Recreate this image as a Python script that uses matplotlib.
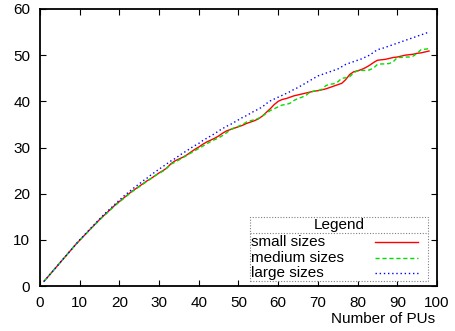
import numpy as np
import matplotlib
matplotlib.use("Agg")
import matplotlib.pyplot as plt
from matplotlib.lines import Line2D
from matplotlib.patches import Rectangle

plt.rcParams['font.family'] = ['Liberation Sans', 'DejaVu Sans']

# Number of processing units
pus = list(range(1, 99))

small_sizes = [
    1.0, 2.0, 3.0, 4.0, 5.0, 6.0, 7.0, 8.0, 9.0, 9.9,
    10.8, 11.7, 12.6, 13.5, 14.4, 15.2, 16.0, 16.8, 17.6, 18.3,
    19.0, 19.7, 20.4, 21.0, 21.6, 22.2, 22.8, 23.3, 23.9, 24.5,
    25.0, 25.6, 26.5, 27.1, 27.5, 27.9, 28.4, 29.0, 29.6, 30.1,
    30.7, 31.2, 31.6, 32.0, 32.5, 33.1, 33.6, 33.9, 34.2, 34.5,
    34.8, 35.2, 35.5, 35.8, 36.2, 36.8, 37.6, 38.4, 39.3, 40.0,
    40.4, 40.6, 40.9, 41.2, 41.4, 41.6, 41.8, 42.0, 42.2, 42.3,
    42.5, 42.7, 43.0, 43.3, 43.6, 43.9, 44.7, 45.8, 46.4, 46.6,
    46.9, 47.3, 47.8, 48.4, 48.9, 49.0, 49.1, 49.3, 49.5, 49.6,
    49.8, 50.0, 50.1, 50.2, 50.4, 50.5, 50.7, 50.9,
]

medium_sizes = [
    1.0, 2.0, 3.0, 4.0, 5.0, 6.0, 7.0, 8.0, 9.0, 9.9,
    10.8, 11.7, 12.6, 13.4, 14.3, 15.1, 15.9, 16.7, 17.5, 18.2,
    18.9, 19.6, 20.3, 20.9, 21.5, 22.1, 22.7, 23.3, 23.9, 24.4,
    24.9, 25.6, 26.4, 26.8, 27.3, 27.8, 28.3, 28.8, 29.3, 29.8,
    30.3, 30.8, 31.3, 31.7, 32.1, 32.6, 33.2, 33.9, 34.3, 34.6,
    35.0, 35.5, 35.8, 36.0, 36.3, 36.8, 37.4, 38.0, 38.4, 38.8,
    39.2, 39.3, 39.6, 40.2, 40.6, 40.9, 41.3, 42.0, 42.2, 42.3,
    42.6, 43.4, 43.7, 43.8, 44.2, 45.0, 45.1, 45.3, 46.2, 46.6,
    46.7, 46.7, 46.8, 47.2, 48.0, 48.1, 48.1, 48.2, 48.6, 49.5,
    49.5, 49.6, 49.6, 49.8, 50.4, 51.2, 51.3, 51.4,
]

large_sizes = [
    1.0, 2.0, 3.0, 4.0, 5.0, 6.0, 7.0, 8.0, 9.0, 10.0,
    10.9, 11.8, 12.7, 13.6, 14.5, 15.4, 16.2, 17.0, 17.8, 18.6,
    19.4, 20.1, 20.8, 21.5, 22.1, 22.8, 23.4, 24.1, 24.7, 25.3,
    25.9, 26.5, 27.1, 27.6, 28.2, 28.8, 29.3, 29.9, 30.4, 30.9,
    31.5, 32.0, 32.5, 33.0, 33.6, 34.1, 34.6, 35.0, 35.5, 36.0,
    36.5, 36.9, 37.4, 37.9, 38.3, 38.8, 39.5, 40.1, 40.5, 40.9,
    41.3, 41.7, 42.1, 42.6, 43.0, 43.5, 44.0, 44.5, 45.0, 45.5,
    45.8, 46.1, 46.4, 46.7, 47.0, 47.5, 48.0, 48.3, 48.6, 48.9,
    49.2, 49.6, 50.0, 50.6, 51.2, 51.4, 51.7, 52.0, 52.3, 52.6,
    52.9, 53.2, 53.5, 53.8, 54.1, 54.4, 54.7, 55.0,
]

series_labels = ["small sizes", "medium sizes", "large sizes"]
series_colors = ["#ff0000", "#00e000", "#0000ff"]
series_styles = ["-", (0, (3, 2)), (0, (1, 2))]

x_ticks = list(range(0, 101, 10))
y_ticks = list(range(0, 61, 10))

FS = 11
W, H = 456, 331
fig = plt.figure(figsize=(W / 100, H / 100), dpi=100)
L, R, B, T = 40, 437, 286, 9
ax = fig.add_axes([L / W, (H - B) / H, (R - L) / W, (B - T) / H])

for ys, lab, col, ls in zip([small_sizes, medium_sizes, large_sizes],
                            series_labels, series_colors, series_styles):
    ax.plot(pus, ys, color=col, linestyle=ls, linewidth=1.0, label=lab)

ax.set_xlim(0, 100)
ax.set_ylim(0, 60)
ax.set_xticks(x_ticks)
ax.set_yticks(y_ticks)
ax.tick_params(direction="in", length=4, width=0.8, top=True, right=True,
               labelsize=FS, colors="black")
ax.tick_params(axis="x", pad=7)
ax.tick_params(axis="y", pad=7)
for sp in ax.spines.values():
    sp.set_linewidth(1.3)

ax.text(0.995, -0.095, "Number of PUs", transform=ax.transAxes,
        ha="right", va="top", fontsize=FS)

# legend box in gnuplot style
def ax_x(px):
    return (px - L) / (R - L)

def ax_y(py):
    return (B - py) / (B - T)

bx0, bx1, by_top, by_bot = 250, 428, 216.5, 281
ax.add_patch(Rectangle((ax_x(bx0), ax_y(by_bot)), ax_x(bx1) - ax_x(bx0),
                       ax_y(by_top) - ax_y(by_bot), transform=ax.transAxes,
                       fill=True, facecolor="white", edgecolor="#808080",
                       linewidth=0.8, linestyle=(0, (1, 1.5)), zorder=5))
ax.add_line(Line2D([ax_x(bx0), ax_x(bx1)], [ax_y(233.3)] * 2,
                   transform=ax.transAxes, color="#808080", linewidth=0.8,
                   linestyle=(0, (1, 1.5)), zorder=6))
ax.text(ax_x((bx0 + bx1) / 2), ax_y(225), "Legend", transform=ax.transAxes,
        ha="center", va="center", fontsize=FS, zorder=6)
for lab, col, ls, py in zip(series_labels, series_colors, series_styles,
                            [242, 257.7, 273.3]):
    ax.text(ax_x(251), ax_y(py), lab, transform=ax.transAxes,
            ha="left", va="center", fontsize=FS, zorder=6)
    ax.add_line(Line2D([ax_x(375), ax_x(418)], [ax_y(py)] * 2,
                       transform=ax.transAxes, color=col, linestyle=ls,
                       linewidth=1.0, zorder=6))

fig.savefig("out.png", dpi=100)
